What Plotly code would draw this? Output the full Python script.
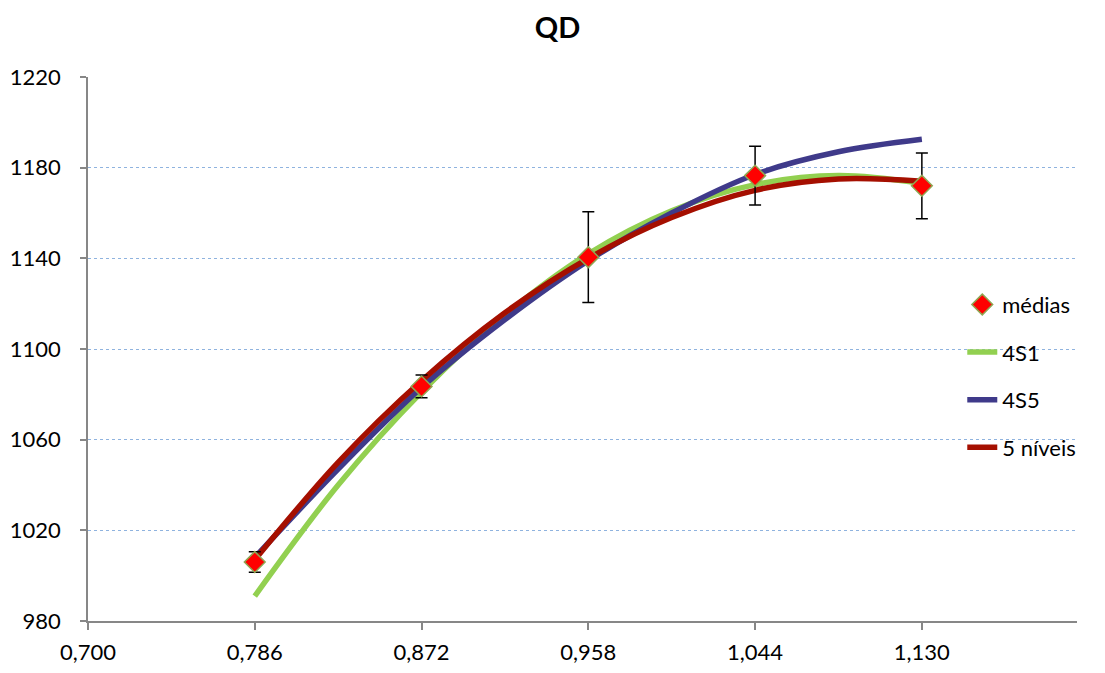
import plotly.graph_objects as go

# Means with error bars
x_means = [0.786, 0.872, 0.958, 1.044, 1.130]
y_means = [1006.0, 1083.5, 1140.5, 1176.5, 1172.0]
err_means = [4.5, 5.0, 20.0, 13.0, 14.5]

# Fitted curves
x_curve = [0.786, 0.829, 0.872, 0.915, 0.958, 1.001, 1.044, 1.087, 1.130]
y_4s1 = [991, 1040, 1081, 1115, 1142, 1161, 1172.5, 1176.5, 1173]
y_4s5 = [1008, 1047, 1083, 1113, 1139, 1160, 1177, 1187, 1192.5]
y_5niv = [1007, 1050, 1086, 1116, 1140, 1158, 1170, 1175, 1174]

x_ticks = [0.700, 0.786, 0.872, 0.958, 1.044, 1.130]
y_ticks = [980, 1020, 1060, 1100, 1140, 1180, 1220]

FONT = "Lato, 'Open Sans', sans-serif"

fig = go.Figure()

fig.add_trace(go.Scatter(
    x=x_curve, y=y_4s1, mode="lines", name="4S1", legendgroup="b", legendrank=2,
    line=dict(color="#92D050", width=5.5, shape="spline"),
))
fig.add_trace(go.Scatter(
    x=x_curve, y=y_4s5, mode="lines", name="4S5", legendgroup="c", legendrank=3,
    line=dict(color="#3F3A8A", width=5.5, shape="spline"),
))
fig.add_trace(go.Scatter(
    x=x_curve, y=y_5niv, mode="lines", name="5 níveis", legendgroup="d", legendrank=4,
    line=dict(color="#A50F00", width=5.5, shape="spline"),
))
fig.add_trace(go.Scatter(
    x=x_means, y=y_means, mode="markers", name="médias", legendgroup="a", legendrank=1,
    marker=dict(symbol="diamond", size=16, color="#FF0000",
                line=dict(color="#8FA652", width=1.5)),
    error_y=dict(type="data", array=err_means, visible=True,
                 color="black", thickness=1.5, width=6),
))

# The page body has an 8px margin, so the figure is drawn 8px in from the top-left.
fig.update_layout(
    width=1097, height=665,
    paper_bgcolor="white", plot_bgcolor="white",
    margin=dict(l=80, r=28, t=69, b=52, autoexpand=False),
    separators=",.",
    font=dict(family=FONT, size=22, color="black"),
    title=dict(text="<b>QD</b>", x=0.501, xref="container", xanchor="center",
               y=0.97, yref="container", yanchor="middle",
               font=dict(family=FONT, size=29, color="black")),
    showlegend=True,
    legend=dict(x=0.884, y=0.45, xanchor="left", yanchor="middle",
                bgcolor="rgba(0,0,0,0)", traceorder="grouped",
                tracegroupgap=16, font=dict(size=22)),
    xaxis=dict(
        range=[0.7, 1.21], tickvals=x_ticks, tickformat=".3f",
        showgrid=False, zeroline=False, automargin=False,
        showline=True, linecolor="#878787", linewidth=2,
        ticks="outside", ticklen=7, tickcolor="#878787", tickwidth=1.5,
        ticklabelstandoff=4,
    ),
    yaxis=dict(
        range=[980, 1220], tickvals=y_ticks,
        showgrid=True, gridcolor="#8FB3DF", gridwidth=1, griddash="dot",
        zeroline=False, automargin=False,
        showline=True, linecolor="#878787", linewidth=1.5,
        ticks="outside", ticklen=6, tickcolor="#878787", tickwidth=1.5,
        ticklabelstandoff=15,
    ),
)

fig.write_html("out.html")
